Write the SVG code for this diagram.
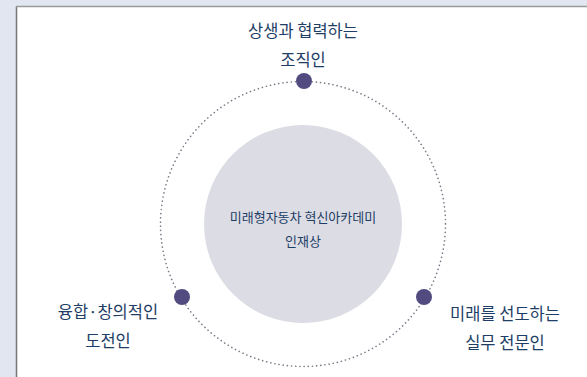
<svg xmlns="http://www.w3.org/2000/svg" width="587" height="377" viewBox="0 0 587 377">
<style>
.lbl{font-family:"Noto Sans CJK KR","Noto Sans",sans-serif;fill:#1E3E66;text-anchor:middle;font-size:16.5px}
.ctr{font-family:"Noto Sans CJK KR","Noto Sans",sans-serif;fill:#1E3E66;text-anchor:middle;font-size:13px}
.dot{fill:#524B80}
</style>
<rect x="0" y="0" width="587" height="377" fill="#E1E6F1"/>
<rect x="16.5" y="6.5" width="580" height="380" fill="#FFFFFF"/>
<line x1="16.5" y1="6.5" x2="16.5" y2="377" stroke="#767676" stroke-width="1.5"/>
<line x1="16" y1="6.5" x2="587" y2="6.5" stroke="#9A9A9A" stroke-width="1.5"/>
<g id="connectors">
<circle cx="303" cy="224" r="142.5" fill="none" stroke="#7A7A88" stroke-width="1.6" stroke-dasharray="0.1 4.1" stroke-linecap="round"/>
</g>
<g id="center">
<circle cx="303" cy="224" r="99" fill="#DCDCE4"/>
<text class="ctr" x="303" y="222">미래형자동차 혁신아카데미</text>
<text class="ctr" x="303" y="246">인재상</text>
</g>
<g id="top">
<circle class="dot" cx="304" cy="81" r="8"/>
<text class="lbl" x="303" y="37">상생과 협력하는</text>
<text class="lbl" x="303" y="66">조직인</text>
</g>
<g id="left">
<circle class="dot" cx="182" cy="297" r="8"/>
<text class="lbl" x="108" y="318">융합·창의적인</text>
<text class="lbl" x="108" y="347">도전인</text>
</g>
<g id="right">
<circle class="dot" cx="424" cy="297" r="8"/>
<text class="lbl" x="505" y="320">미래를 선도하는</text>
<text class="lbl" x="505" y="349">실무 전문인</text>
</g>
</svg>
